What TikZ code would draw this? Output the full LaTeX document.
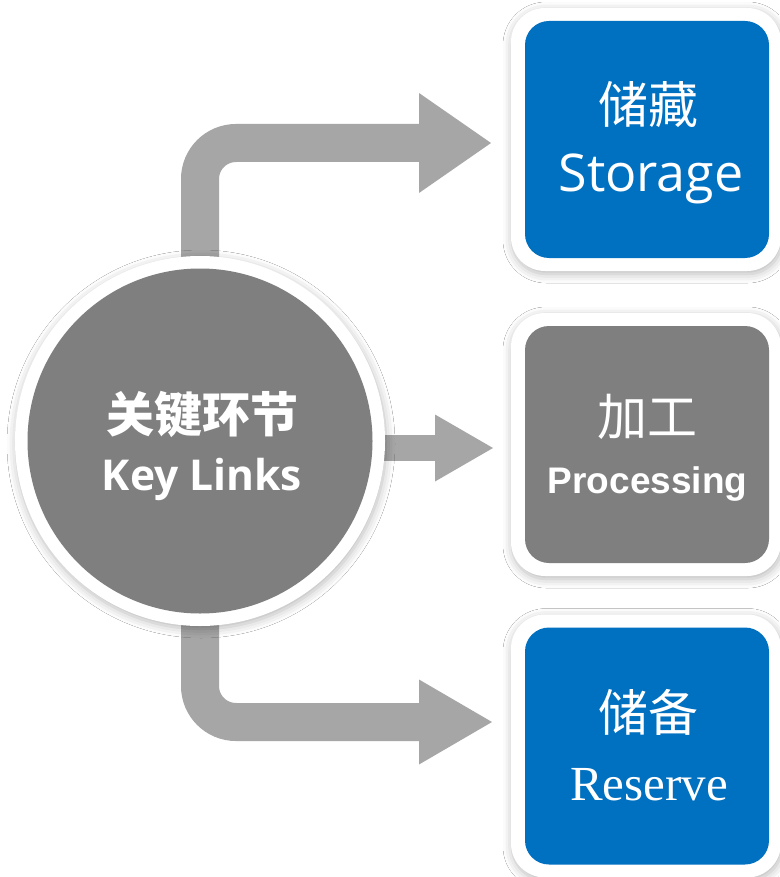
\documentclass[tikz,border=0pt]{standalone}
\usepackage{fontspec}
\newfontfamily\cjk{Noto Sans CJK SC}
\newfontfamily\osans{Open Sans}
\newfontfamily\lsans{Liberation Sans}
\newfontfamily\lserif{Liberation Serif}
\usetikzlibrary{arrows.meta,shadows.blur}
\definecolor{kblue}{HTML}{0070C0}
\definecolor{kgray}{HTML}{7F7F7F}
\definecolor{agray}{HTML}{A6A6A6}
\begin{document}
\begin{tikzpicture}[x=1pt,y=-1pt,
  softshadow/.style={blur shadow={shadow xshift=1pt, shadow yshift=-3pt, shadow blur radius=9pt, shadow opacity=28}},
  frame/.style={fill=white, rounded corners=34pt, minimum width=270pt, minimum height=263pt, inner sep=0pt, softshadow},
  box/.style={rounded corners=24pt, minimum width=244pt, minimum height=237pt, inner sep=0pt},
  flow/.style={draw=agray, line width=38pt, rounded corners=36pt},
  lbl/.style={text=white, anchor=base, inner sep=0pt, outer sep=0pt}]
\useasboundingbox (0,0) rectangle (779,877);
\fill[white] (0,0) rectangle (779,877);

\coordinate (cc) at (200,441);
\coordinate (tipA) at (491,143);
\coordinate (tipB) at (493,448);
\coordinate (tipC) at (492,722);

% connectors
\draw[flow, -{Triangle[length=72pt,width=100pt,line width=0pt]}] (cc) |- (tipA);
\draw[flow, line width=26pt, -{Triangle[length=58pt,width=67pt,line width=0pt]}] (cc |- tipB) -- (tipB);
\draw[flow, -{Triangle[length=73pt,width=85pt,line width=0pt]}] (cc) |- (tipC);

% hub circle
\node[circle, fill=white, minimum size=370pt, inner sep=0pt, softshadow] (hubring) at (cc) {};
\node[circle, fill=kgray, minimum size=345pt, inner sep=0pt] (hub) at (cc) {};
\node[lbl, font=\cjk\bfseries\fontsize{48}{48}\selectfont] (hubzh) at (202,432) {关键环节};
\node[lbl, font=\osans\bfseries\fontsize{42.5}{42.5}\selectfont] (huben) at (202,490) {Key Links};

% boxes
\node[frame] (storframe) at (646,139.5) {};
\node[box, fill=kblue] (stor) at (647,139.5) {};
\node[frame] (procframe) at (646,444.5) {};
\node[box, fill=kgray] (proc) at (647,444.5) {};
\node[frame] (resvframe) at (646,746) {};
\node[box, fill=kblue] (resv) at (647,746) {};

\node[lbl, font=\cjk\fontsize{50}{50}\selectfont] (storzh) at (648.5,123.5) {储藏};
\node[lbl, font=\osans\fontsize{52}{52}\selectfont] (storen) at (651,192) {Storage};
\node[lbl, font=\cjk\fontsize{50}{50}\selectfont] (proczh) at (647,435.5) {加工};
\node[lbl, font=\lsans\bfseries\fontsize{37}{37}\selectfont] (procen) at (647.5,493) {Processing};
\node[lbl, font=\cjk\fontsize{50}{50}\selectfont] (resvzh) at (648.5,731.5) {储备};
\node[lbl, font=\lserif\fontsize{49}{49}\selectfont] (resven) at (649,800) {Reserve};
\end{tikzpicture}
\end{document}
